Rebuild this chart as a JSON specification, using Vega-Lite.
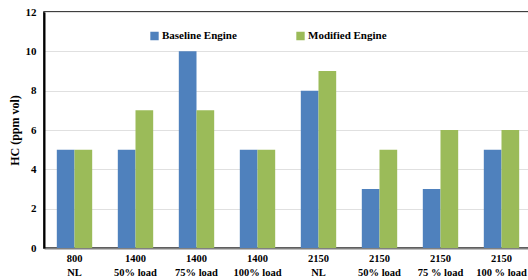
{
  "$schema": "https://vega.github.io/schema/vega-lite/v6.json",
  "autosize": {"type": "none"},
  "padding": {"left": 44, "top": 12, "right": 0, "bottom": 32},
  "width": 488,
  "height": 236,
  "config": {
    "font": "Liberation Serif",
    "view": {"stroke": "#000000", "strokeWidth": 1.5},
    "background": "#ffffff"
  },
  "data": {
    "values": [
      {"cat": "800|NL", "engine": "Baseline Engine", "hc": 5},
      {"cat": "800|NL", "engine": "Modified Engine", "hc": 5},
      {"cat": "1400|50% load", "engine": "Baseline Engine", "hc": 5},
      {"cat": "1400|50% load", "engine": "Modified Engine", "hc": 7},
      {"cat": "1400|75% load", "engine": "Baseline Engine", "hc": 10},
      {"cat": "1400|75% load", "engine": "Modified Engine", "hc": 7},
      {"cat": "1400|100% load", "engine": "Baseline Engine", "hc": 5},
      {"cat": "1400|100% load", "engine": "Modified Engine", "hc": 5},
      {"cat": "2150|NL", "engine": "Baseline Engine", "hc": 8},
      {"cat": "2150|NL", "engine": "Modified Engine", "hc": 9},
      {"cat": "2150|50% load", "engine": "Baseline Engine", "hc": 3},
      {"cat": "2150|50% load", "engine": "Modified Engine", "hc": 5},
      {"cat": "2150|75 % load", "engine": "Baseline Engine", "hc": 3},
      {"cat": "2150|75 % load", "engine": "Modified Engine", "hc": 6},
      {"cat": "2150|100 % load", "engine": "Baseline Engine", "hc": 5},
      {"cat": "2150|100 % load", "engine": "Modified Engine", "hc": 6}
    ]
  },
  "mark": {"type": "bar"},
  "encoding": {
    "x": {
      "field": "cat",
      "type": "nominal",
      "sort": null,
      "scale": {"paddingInner": 0.42, "paddingOuter": 0.21},
      "axis": {
        "title": null,
        "labelAngle": 0,
        "labelExpr": "split(datum.label, '|')",
        "labelFont": "Liberation Serif",
        "labelFontWeight": "bold",
        "labelFontSize": 10.5,
        "labelColor": "#000000",
        "labelLineHeight": 14,
        "labelPadding": 5,
        "ticks": false,
        "domainColor": "#808080",
        "domainWidth": 2
      }
    },
    "xOffset": {"field": "engine", "type": "nominal", "scale": {"paddingInner": 0}},
    "y": {
      "field": "hc",
      "type": "quantitative",
      "scale": {"domain": [0, 12]},
      "axis": {
        "title": "HC (ppm vol)",
        "titleFont": "Liberation Serif",
        "titleFontWeight": "bold",
        "titleFontSize": 12,
        "titleColor": "#000000",
        "titlePadding": 4,
        "values": [0, 2, 4, 6, 8, 10, 12],
        "labelFont": "Liberation Serif",
        "labelFontWeight": "bold",
        "labelFontSize": 11,
        "labelColor": "#000000",
        "labelPadding": 8,
        "ticks": false,
        "domainColor": "#000000",
        "domainWidth": 2,
        "gridColor": "#e0e0e0",
        "gridWidth": 1
      }
    },
    "color": {
      "field": "engine",
      "type": "nominal",
      "scale": {"domain": ["Baseline Engine", "Modified Engine"], "range": ["#4f81bd", "#9bbb59"]},
      "legend": {
        "title": null,
        "orient": "none",
        "legendX": 105,
        "legendY": 17,
        "direction": "horizontal",
        "symbolType": "square",
        "symbolSize": 70,
        "symbolStrokeWidth": 0,
        "labelFont": "Liberation Serif",
        "labelFontWeight": "bold",
        "labelFontSize": 11,
        "labelColor": "#000000",
        "labelOffset": 2,
        "columnPadding": 58,
        "labelLimit": 200,
        "symbolOffset": 0,
        "clipHeight": 14,
        "gridAlign": "none"
      }
    }
  }
}
